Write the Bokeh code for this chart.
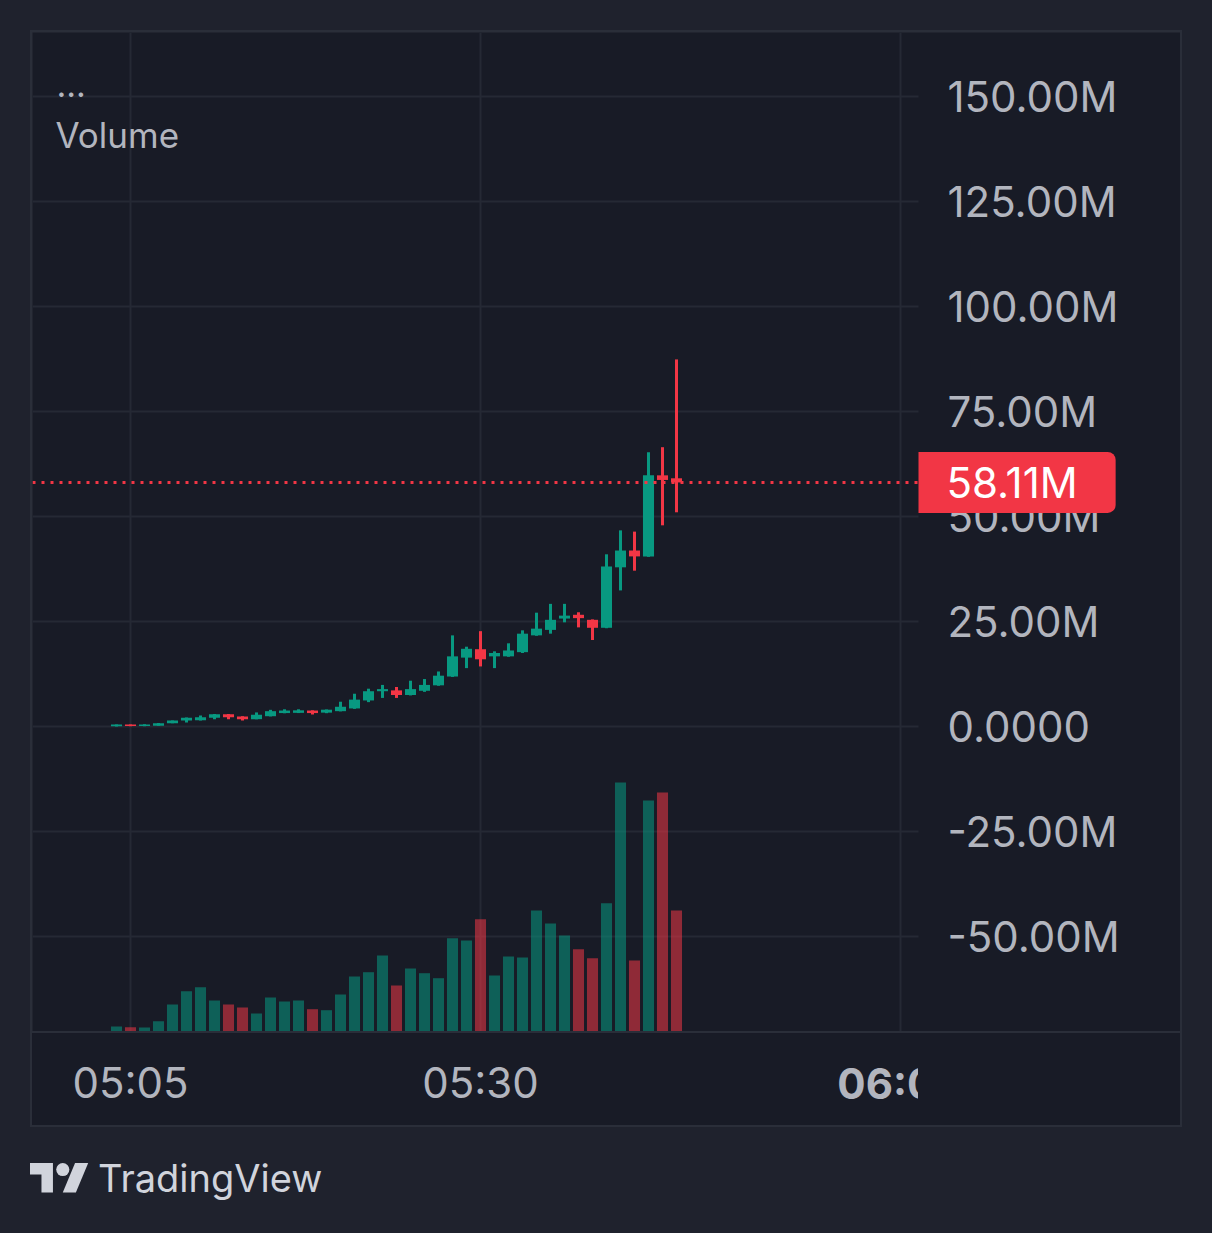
import pandas as pd
from bokeh.plotting import figure
from bokeh.models import (ColumnDataSource, Range1d, FixedTicker, Grid, CustomJSTickFormatter,
                          DatetimeTickFormatter, Label, Div, Spacer, GlobalInlineStyleSheet)
from bokeh.layouts import column, row
from bokeh.embed import file_html
from bokeh.resources import INLINE

# ---------------- data (price in millions, 1-minute candles) ----------------
times = pd.date_range("2025-01-15 05:04", periods=41, freq="1min")
opens = [0.05, 0.45, 0.10, 0.20, 0.80, 1.40, 1.50, 2.10, 2.90, 2.40,
         1.75, 2.45, 3.20, 3.25, 3.80, 3.30, 3.65, 4.30, 6.20, 8.40,
         8.60, 7.50, 8.50, 9.80, 11.9, 16.4, 18.4, 16.7, 16.7, 17.7,
         21.7, 23.0, 25.7, 26.6, 25.4, 23.5, 37.9, 41.9, 40.5, 59.8, 59.1]
highs = [0.50, 0.50, 0.55, 0.85, 1.45, 2.15, 2.60, 2.95, 2.95, 2.45,
         3.35, 3.97, 4.10, 4.10, 3.85, 4.05, 5.90, 7.80, 9.00, 9.90,
         9.40, 10.9, 11.3, 13.1, 21.7, 19.0, 22.7, 17.9, 19.8, 22.9,
         27.1, 29.2, 29.2, 27.2, 25.5, 41.0, 46.7, 46.4, 65.3, 66.5, 87.4]
lows = [0.00, 0.05, 0.05, 0.15, 0.75, 0.95, 1.45, 1.70, 1.75, 1.45,
        1.70, 2.40, 3.15, 3.20, 2.86, 3.17, 3.60, 4.20, 5.80, 6.80,
        6.80, 7.40, 8.25, 9.70, 11.8, 13.9, 14.3, 13.9, 16.6, 17.5,
        21.6, 22.1, 24.8, 23.6, 20.6, 23.4, 32.4, 37.1, 40.4, 47.9, 51.0]
closes = [0.45, 0.10, 0.50, 0.80, 1.40, 2.10, 2.20, 2.90, 2.20, 1.75,
          2.80, 3.65, 3.80, 3.85, 3.20, 4.00, 4.70, 6.40, 8.40, 8.90,
          7.50, 8.90, 9.90, 12.1, 16.7, 18.5, 16.0, 17.5, 18.1, 22.1,
          23.3, 25.4, 26.4, 25.8, 23.5, 38.1, 41.9, 40.5, 59.8, 58.7, 58.11]
volumes = [50, 43, 40, 103, 270, 403, 443, 310, 270, 240,
           180, 340, 300, 310, 223, 213, 370, 550, 593, 760,
           460, 630, 583, 533, 933, 910, 1123, 560, 750, 740,
           1210, 1080, 960, 823, 733, 1283, 2490, 710, 2310, 2390, 1210]
price_ticks = [-50, -25, 0, 25, 50, 75, 100, 125, 150]
time_ticks = ["2025-01-15 05:05", "2025-01-15 05:30", "2025-01-15 06:00"]

# ---------------- style ----------------
PANE = "#181b26"
OUTER = "#1f222d"
GRID = "#252934"
BORDER = "#2a2e39"
TEXT = "#b2b5be"
UP = "#089981"
DOWN = "#f23645"
FONT = "Inter"
FS = "42px"

def ms(t):
    return pd.Timestamp(t).value // 10**6

tms = [ms(t) for t in times]
colors = [UP if c >= o else DOWN for o, c in zip(opens, closes)]
src = ColumnDataSource(dict(
    t=tms, open=opens, high=highs, low=lows, close=closes, vol=volumes,
    btop=[max(o, c) for o, c in zip(opens, closes)],
    bbot=[min(o, c) for o, c in zip(opens, closes)],
    color=colors,
))

MIN = 60_000
PX_PER_MIN = 14.0
PANE_W, AXIS_W, PANE_H = 886, 262, 999
x0 = ms(time_ticks[0]) - 7.0 * MIN
x_pane_end = x0 + PANE_W / PX_PER_MIN * MIN
x_frame_end = x0 + (PANE_W + AXIS_W) / PX_PER_MIN * MIN
BAR_W = 0.79 * MIN

# frame spans pane + price-scale area; the price axis is pinned at the pane edge
chart = figure(frame_width=PANE_W + AXIS_W, frame_height=PANE_H,
               x_range=Range1d(x0, x_frame_end), y_range=Range1d(-72.619, 165.238),
               x_axis_location=None, y_axis_location="right",
               toolbar_location=None, output_backend="svg",
               min_border_left=0, min_border_top=0, min_border_bottom=0, min_border_right=0,
               background_fill_color=PANE, border_fill_color=PANE, outline_line_color=None)

yax = chart.yaxis[0]
yax.fixed_location = x_pane_end
yax.ticker = FixedTicker(ticks=price_ticks)
yax.formatter = CustomJSTickFormatter(code="return tick == 0 ? '0.0000' : tick.toFixed(2) + 'M';")
yax.axis_line_color = None
yax.major_tick_line_color = None
yax.minor_tick_line_color = None
yax.major_tick_out = 0
yax.major_tick_in = 0
yax.major_label_standoff = 29
yax.major_label_text_font = FONT
yax.major_label_text_font_size = FS
yax.major_label_text_color = TEXT

for g in chart.ygrid:
    g.visible = False
for g in chart.xgrid:
    g.visible = False

if "cross_bounds" in Grid.properties():
    chart.add_layout(Grid(dimension=1, ticker=FixedTicker(ticks=price_ticks),
                          cross_bounds=(x0, x_pane_end),
                          grid_line_color=GRID, grid_line_width=2))
else:
    chart.segment(x0=[x0] * len(price_ticks), x1=[x_pane_end] * len(price_ticks),
                  y0=price_ticks, y1=price_ticks, line_color=GRID, line_width=2)
chart.add_layout(Grid(dimension=0, ticker=FixedTicker(ticks=[ms(t) for t in time_ticks]),
                      grid_line_color=GRID, grid_line_width=2))

# volume overlay
chart.extra_y_ranges = {"vol": Range1d(0, max(volumes) * PANE_H / 249)}
chart.vbar(x="t", top="vol", bottom=0, width=BAR_W, source=src, y_range_name="vol",
           fill_color="color", fill_alpha=0.55, line_color=None)

# candles
chart.segment(x0="t", y0="high", x1="t", y1="low", source=src, line_color="color", line_width=3)
chart.vbar(x="t", top="btop", bottom="bbot", width=BAR_W, source=src,
           fill_color="color", line_color=None)

# last price line + label
last_col = colors[-1]
chart.segment(x0=[x0], x1=[x_pane_end], y0=[closes[-1]], y1=[closes[-1]],
              line_color=last_col, line_width=3, line_dash="3 6")
chart.add_layout(Label(x=PANE_W, y=closes[-1], x_units="screen", y_units="data",
                       text=f"{closes[-1]:.2f}M", text_color="#ffffff", text_font=FONT,
                       text_font_size=FS, text_align="left", text_baseline="middle",
                       background_fill_color=last_col,
                       padding=dict(left=28, right=38, top=5, bottom=5),
                       border_radius=(0, 8, 8, 0)))

# legend
chart.add_layout(Label(x=24, y=947, x_units="screen", y_units="screen", text="...",
                       text_color=TEXT, text_font=FONT, text_font_size="34px",
                       text_baseline="middle"))
chart.add_layout(Label(x=23, y=897, x_units="screen", y_units="screen", text="Volume",
                       text_color=TEXT, text_font=FONT, text_font_size="35px",
                       text_baseline="middle"))

# ---------------- time axis (own canvas so the last label is clipped) ----------------
TIME_H = 92
tf = figure(frame_width=PANE_W, frame_height=TIME_H, x_range=Range1d(x0, x_pane_end),
            y_range=Range1d(0, TIME_H),
            x_axis_type="datetime", x_axis_location="below", y_axis_location=None,
            toolbar_location=None, output_backend="svg",
            min_border_left=0, min_border_right=0, min_border_top=0, min_border_bottom=0,
            background_fill_color=PANE, border_fill_color=PANE, outline_line_color=None)
for g in tf.xgrid:
    g.visible = False
for g in tf.ygrid:
    g.visible = False
xax = tf.xaxis[0]
xax.fixed_location = TIME_H
xax.ticker = FixedTicker(ticks=[ms(t) for t in time_ticks[:2]])
fmt = "%H:%M"
xax.formatter = DatetimeTickFormatter(microseconds=fmt, milliseconds=fmt, seconds=fmt, minsec=fmt,
                                      minutes=fmt, hourmin=fmt, hours=fmt, days=fmt,
                                      months=fmt, years=fmt, context=None)
xax.axis_line_color = None
xax.major_tick_line_color = None
xax.minor_tick_line_color = None
xax.major_tick_out = 0
xax.major_tick_in = 0
xax.major_label_standoff = 23
xax.major_label_text_font = FONT
xax.major_label_text_font_size = FS
xax.major_label_text_color = TEXT
tf.add_layout(Label(x=ms(time_ticks[2]), y=TIME_H - 50, x_units="data", y_units="data",
                    text="06:00", text_color=TEXT, text_font=FONT, text_font_size=FS,
                    text_font_style="bold", text_align="center", text_baseline="middle"))

trow = row(tf, Spacer(width=AXIS_W, height=TIME_H), styles={"background-color": PANE})
chart.margin = (2, 2, 0, 2)
trow.margin = (0, 2, 2, 2)
box = column(chart, trow, spacing=2, styles={"background-color": BORDER})
box.margin = (30, 0, 0, 30)

logo_html = (
    '<div style="display:flex;align-items:center;height:60px;font-family:Inter,sans-serif;'
    'font-size:38px;color:#d1d4dc;">'
    '<svg width="59" height="29.5" viewBox="0 4 36 18" style="margin-right:9px">'
    '<path d="M14 22H7V11H0V4h14z" fill="#d1d4dc"/>'
    '<circle cx="20" cy="8" r="4" fill="#d1d4dc"/>'
    '<path d="M28 22h-8l7.5-18h8z" fill="#d1d4dc"/>'
    '</svg><span>TradingView</span></div>'
)
logo = Div(text=logo_html, width=400, height=60, margin=(21, 0, 0, 30))

p = column(box, logo, stylesheets=[GlobalInlineStyleSheet(css=f"body{{background-color:{OUTER};}}")])

open("out.html", "w").write(file_html(p, INLINE))
